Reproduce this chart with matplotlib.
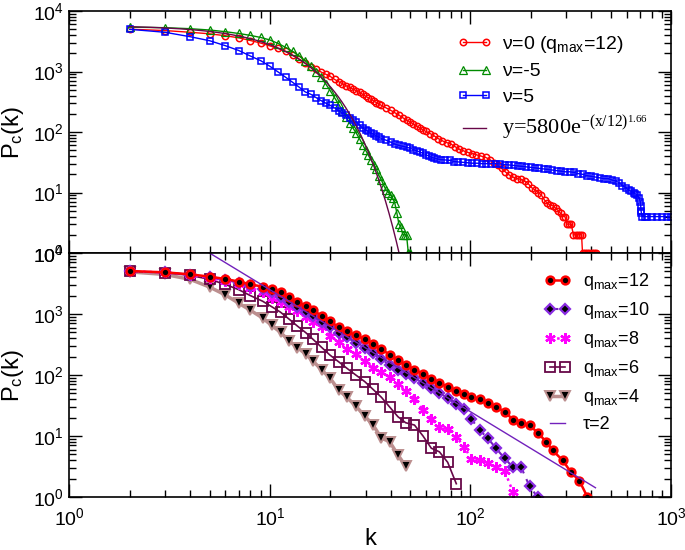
import numpy as np
import matplotlib
matplotlib.use("Agg")
import matplotlib.pyplot as plt

plt.rcParams['font.family'] = ['Liberation Sans', 'DejaVu Sans']
plt.rcParams['mathtext.default'] = 'regular'

# ---- top panel: nu = 0, -5, 5 ----
k_nu0 = [2, 3, 4, 5, 6, 7, 8, 9, 10, 11, 12, 13, 14, 15, 16, 17, 18, 19, 20,
         21, 22, 23, 24, 25, 26, 27, 28, 29, 30, 31, 32, 33, 34, 35, 36, 38,
         40, 42, 44, 46, 48, 50, 52, 54, 56, 58, 60, 63, 66, 69, 72, 76, 80,
         84, 88, 92, 97, 102, 107, 113, 119, 125, 131, 137, 143, 149, 156,
         163, 170, 178, 186, 194, 202, 210, 218, 226, 234, 242, 250, 258, 266,
         274, 282, 290, 296, 302, 310, 318, 326, 334, 342, 350, 358, 362, 372,
         382, 392, 402, 412, 422]
p_nu0 = [5000, 4750, 4450, 4200, 3900, 3600, 3250, 2950, 2650, 2400, 2150,
         1850, 1600, 1380, 1200, 1080, 980, 900, 830, 740, 680, 630, 580, 545,
         510, 480, 450, 420, 390, 365, 345, 325, 305, 290, 275, 250, 228, 208,
         190, 172, 158, 146, 135, 125, 116, 108, 102, 94, 86, 78, 72, 67, 63,
         57, 52, 49, 46, 44, 42, 40, 38, 35, 31, 28.5, 25, 22, 19.5, 18, 17,
         16.5, 15.5, 14, 12, 11, 10, 9, 7.5, 6.6, 6.2, 6, 5.5, 5, 4.5, 4, 4,
         3, 3, 3, 2, 2, 2, 2, 2, 1, 1, 1, 1, 1, 1, 1]

k_nu_m5 = list(range(2, 51))
p_nu_m5 = [5400, 5300, 5100, 4850, 4550, 4250, 3950, 3650, 3320, 2900, 2500,
           2150, 1800, 1500, 1230, 1000, 800, 620, 480, 370, 290, 225, 175,
           140, 115, 95, 77, 62, 50, 41, 34, 29, 24, 19, 16, 13, 11, 10, 9, 8,
           6.6, 4.5, 3, 2.7, 2, 2, 2, 1, 1]

k_nu5 = [2, 3, 4, 5, 6, 7, 8, 9, 10, 11, 12, 13, 14, 15, 16, 17, 18, 19, 20,
         21, 22, 23, 24, 25, 26, 27, 28, 29, 30, 31, 32, 33, 34, 35, 36, 38,
         40, 42, 44, 46, 48, 50, 52, 54, 56, 58, 60, 62, 64, 66, 68, 71, 75,
         79, 83, 87, 92, 97, 102, 108, 114, 120, 127, 134, 141, 148, 156, 164,
         172, 181, 190, 200, 210, 220, 232, 244, 256, 269, 283, 297, 312, 328,
         345, 362, 380, 400, 420, 440, 462, 485, 510, 531, 550, 572, 595, 615,
         630, 650, 665, 680, 695, 703, 706, 709, 712, 720, 740, 760, 800, 850,
         900, 950, 1000]
p_nu5 = [4980, 4450, 3760, 3230, 2670, 2220, 1800, 1510, 1220, 980, 800, 660,
         550, 460, 420, 370, 330, 300, 275, 250, 225, 205, 190, 172, 158, 145,
         130, 117, 108, 102, 96, 91, 86, 82, 78, 73, 68, 63, 60, 58, 56, 54,
         51, 49, 46.5, 44.5, 42, 40, 38, 37, 36, 35, 34.5, 34, 32.5, 32, 31.5,
         31, 30.5, 30.5, 30, 30, 30, 30, 29.5, 29, 28.5, 28, 27.5, 27, 26.5,
         26, 25.5, 25, 24.5, 24, 23.5, 23, 22.5, 22, 22, 21.5, 20.5, 20, 19,
         18.5, 18, 17.5, 17, 17, 16, 15.5, 14.5, 13, 12, 11, 10.5, 10, 9.5, 9,
         8, 7, 6, 5, 4.5, 4, 4, 4, 4, 4, 4, 4, 4]

fit_A = 5800
fit_x0 = 12
fit_beta = 1.66
fit_kmin = 2

# ---- bottom panel: different q_max ----
k_bins = [2, 3, 4, 5, 6, 7, 8, 9.2, 10.2, 11.3, 12.5, 13.7, 15.1, 16.4, 18.1,
          19.9, 22, 24.2, 26.8, 29.7, 32.7, 36, 39.5, 43.5, 47.5, 52.6, 58,
          63.8, 70, 77, 85, 93, 101, 111, 122, 134, 148, 163, 179, 197, 216,
          238, 257, 288, 317, 349, 383]
p_q12 = [5070, 4820, 4470, 4100, 3750, 3400, 3070, 2800, 2570, 2270, 1920,
         1590, 1370, 1150, 940, 770, 610, 520, 445, 390, 325, 265, 215, 175,
         148, 122, 105, 87, 74, 64, 55, 49, 44, 40, 35, 30, 25, 18.5, 16.5, 15,
         11.4, 8.1, 5.8, 4.0, 2.55, 1.85, 1.0]
p_q10 = [5000, 4800, 4420, 4000, 3620, 3250, 2900, 2560, 2270, 1920, 1590,
         1310, 1090, 915, 748, 610, 497, 415, 339, 274, 226, 181, 146, 121,
         104, 88, 75, 62, 51, 42, 33, 27.5, 19, 12.5, 9.2, 6.3, 4.3, 3.07, 3.07,
         1.5, 1.0]
p_q8 = [5000, 4800, 4400, 3900, 3480, 3100, 2700, 2290, 1850, 1570, 1320, 1110,
        903, 748, 610, 440, 345, 264, 221, 172, 129, 113, 92, 71, 55, 41, 27,
        19, 14, 13, 9.6, 6.7, 4.2, 4.0, 3.6, 3.1, 2.7, 1.2]
p_q6 = [5000, 4750, 4300, 3700, 3050, 2500, 2000, 1620, 1320, 1070, 818, 636,
        494, 385, 284, 213, 165, 129, 100, 78, 58, 43, 30, 20.7, 16.5, 15.1, 10,
        6.3, 5.5, 3.7, 1.65]
p_q4 = [4900, 4450, 3700, 2770, 2050, 1500, 1150, 860, 650, 500, 360, 282, 220,
        170, 121, 90, 57, 43, 31, 21.3, 15.1, 9.2, 8.1, 4.9, 3.2]

tau_C = 2.5e5
tau_exp = 2
tau_k = [4, 420]

fig = plt.figure(figsize=(6.85, 5.5), dpi=100)
ax1 = fig.add_axes([0.1012, 0.54, 0.8784, 0.44])
ax2 = fig.add_axes([0.1012, 0.0964, 0.8784, 0.4436])

for ax in (ax1, ax2):
    ax.set_xscale('log')
    ax.set_yscale('log')
    ax.set_xlim(1, 1000)
    ax.set_ylim(1, 1e4)
    ax.tick_params(which='both', direction='in', top=True, right=True,
                   labelsize=14, width=1.0)
    ax.tick_params(which='major', length=9.5)
    ax.tick_params(which='minor', length=5)
    ax.tick_params(axis='y', pad=4)
    ax.tick_params(axis='x', pad=7)
    for s in ax.spines.values():
        s.set_linewidth(1.2)
ax1.tick_params(labelbottom=False)

# top panel
ax1.plot(k_nu0, p_nu0, '-o', color='#ff0000', mfc='none', ms=4.6, mew=1.1,
         lw=1, label=u'ν=0 (q$_{max}$=12)')
ax1.plot(k_nu_m5, p_nu_m5, '-^', color='#008b00', mfc='none', ms=6, mew=0.9,
         lw=1, label=u'ν=-5')
ax1.plot(k_nu5, p_nu5, '-s', color='#0000ff', mfc='none', ms=4.3, mew=1.1,
         lw=1, label=u'ν=5')
xf = np.logspace(np.log10(fit_kmin), 3, 600)
ax1.plot(xf, fit_A * np.exp(-(xf / fit_x0) ** fit_beta), '-', color='#670748',
         lw=1, label='y=5800e$^{-(x/12)^{1.66}}$')
leg1 = ax1.legend(loc='upper left', bbox_to_anchor=(0.645, 0.905), frameon=False,
                  fontsize=14, numpoints=2, handlelength=1.75,
                  handletextpad=0.55, labelspacing=0.4, borderpad=0,
                  borderaxespad=0)
ftxt = leg1.get_texts()[3]
ftxt.set_fontfamily('Liberation Serif')
ftxt.set_fontsize(16)

# bottom panel
n4, n6, n8, n10 = len(p_q4), len(p_q6), len(p_q8), len(p_q10)
h4, = ax2.plot(k_bins[:n4], p_q4, '-v', color='#bc8f8f', mfc='black',
               mec='#bc8f8f', ms=6.5, mew=1.4, lw=2.5, label='q$_{max}$=4')
h6, = ax2.plot(k_bins[:n6], p_q6, '-s', color='#670748', mfc='none',
               mec='#670748', ms=6.8, mew=1.3, lw=1.2, label='q$_{max}$=6')
h8, = ax2.plot(k_bins[:n8], p_q8, ':', color='#ff00ff', marker=(6, 2, 0),
               mec='#ff00ff', ms=7.5, mew=1.7, lw=1.8, label='q$_{max}$=8')
h10, = ax2.plot(k_bins[:n10], p_q10, '--D', color='#7221bc', mfc='black',
                mec='#8a2be2', ms=4.6, mew=1.6, lw=1.5, dashes=(4, 3),
                label='q$_{max}$=10')
h12, = ax2.plot(k_bins, p_q12, '-o', color='#ff0000', mfc='black',
                mec='#ff0000', ms=5.6, mew=1.8, lw=1.8, label='q$_{max}$=12')
kt = np.array(tau_k, dtype=float)
ht, = ax2.plot(kt, tau_C * kt ** (-tau_exp), '-', color='#7221bc', lw=1,
               label=u'τ=2')
ax2.legend(handles=[h12, h10, h8, h6, h4, ht], loc='upper left',
           bbox_to_anchor=(0.79, 0.925), frameon=False, fontsize=13,
           numpoints=2, handlelength=1.4, handletextpad=0.7,
           labelspacing=0.44, borderpad=0, borderaxespad=0)

fig.text(0.019, 0.76, 'P$_c$(k)', rotation=90, fontsize=17, ha='center',
         va='center')
fig.text(0.019, 0.318, 'P$_c$(k)', rotation=90, fontsize=17, ha='center',
         va='center')
fig.text(0.54, 0.02, 'k', fontsize=17, ha='center', va='center')

fig.savefig('out.png', dpi=100)
